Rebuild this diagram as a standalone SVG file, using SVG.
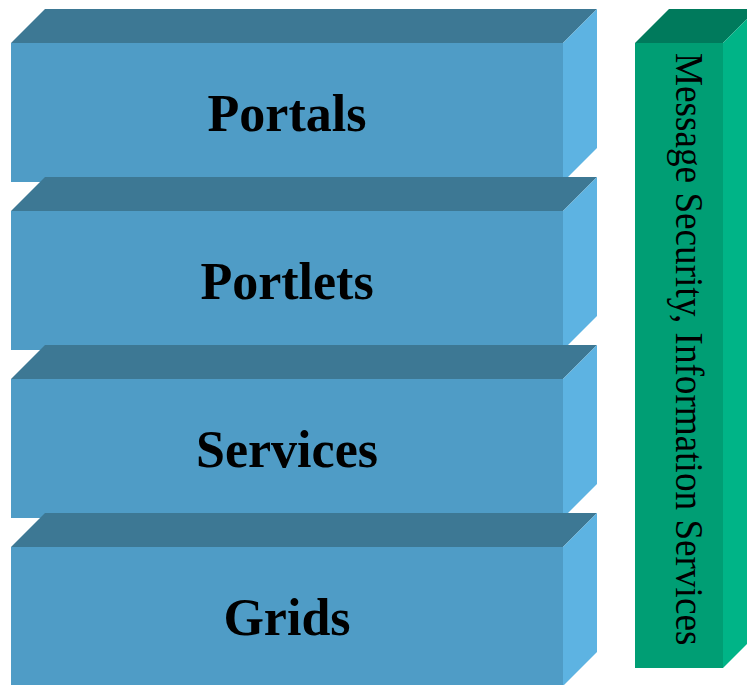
<svg xmlns="http://www.w3.org/2000/svg" width="747" height="685" viewBox="0 0 747 685">
<style>
.bf{fill:#4F9CC6}
.bt{fill:#3D7894}
.br{fill:#5DB3E2}
.gf{fill:#009E74}
.gt{fill:#007A5C}
.gr{fill:#00B487}
.lbl{font-family:"Liberation Serif","Times New Roman",serif;font-weight:bold;font-size:52px;fill:#000;text-anchor:middle}
.vl{font-family:"Liberation Serif","Times New Roman",serif;font-size:40px;fill:#000}
</style>
<rect width="747" height="685" fill="#fff"/>
<g id="portals">
<polygon class="bt" points="11,43 45,9 597,9 563,43"/>
<polygon class="br" points="563,43 597,9 597,148 563,182"/>
<rect class="bf" x="11" y="43" width="552" height="139"/>
<text class="lbl" x="287" y="131">Portals</text>
</g>
<g id="portlets">
<polygon class="bt" points="11,211 45,177 597,177 563,211"/>
<polygon class="br" points="563,211 597,177 597,316 563,350"/>
<rect class="bf" x="11" y="211" width="552" height="139"/>
<text class="lbl" x="287" y="299">Portlets</text>
</g>
<g id="services">
<polygon class="bt" points="11,379 45,345 597,345 563,379"/>
<polygon class="br" points="563,379 597,345 597,484 563,518"/>
<rect class="bf" x="11" y="379" width="552" height="139"/>
<text class="lbl" x="287" y="467">Services</text>
</g>
<g id="grids">
<polygon class="bt" points="11,547 45,513 597,513 563,547"/>
<polygon class="br" points="563,547 597,513 597,652 563,686"/>
<rect class="bf" x="11" y="547" width="552" height="139"/>
<text class="lbl" x="287" y="635">Grids</text>
</g>
<g id="message-security">
<polygon class="gt" points="635,43 669,9 757,9 723,43"/>
<polygon class="gr" points="723,43 757,9 757,634 723,668"/>
<rect class="gf" x="635" y="43" width="88" height="625"/>
<text class="vl" transform="translate(676,53) rotate(90) scale(0.93,1)" x="0" y="0">Message Security, Information Services</text>
</g>
<g id="connectors"></g>
</svg>
